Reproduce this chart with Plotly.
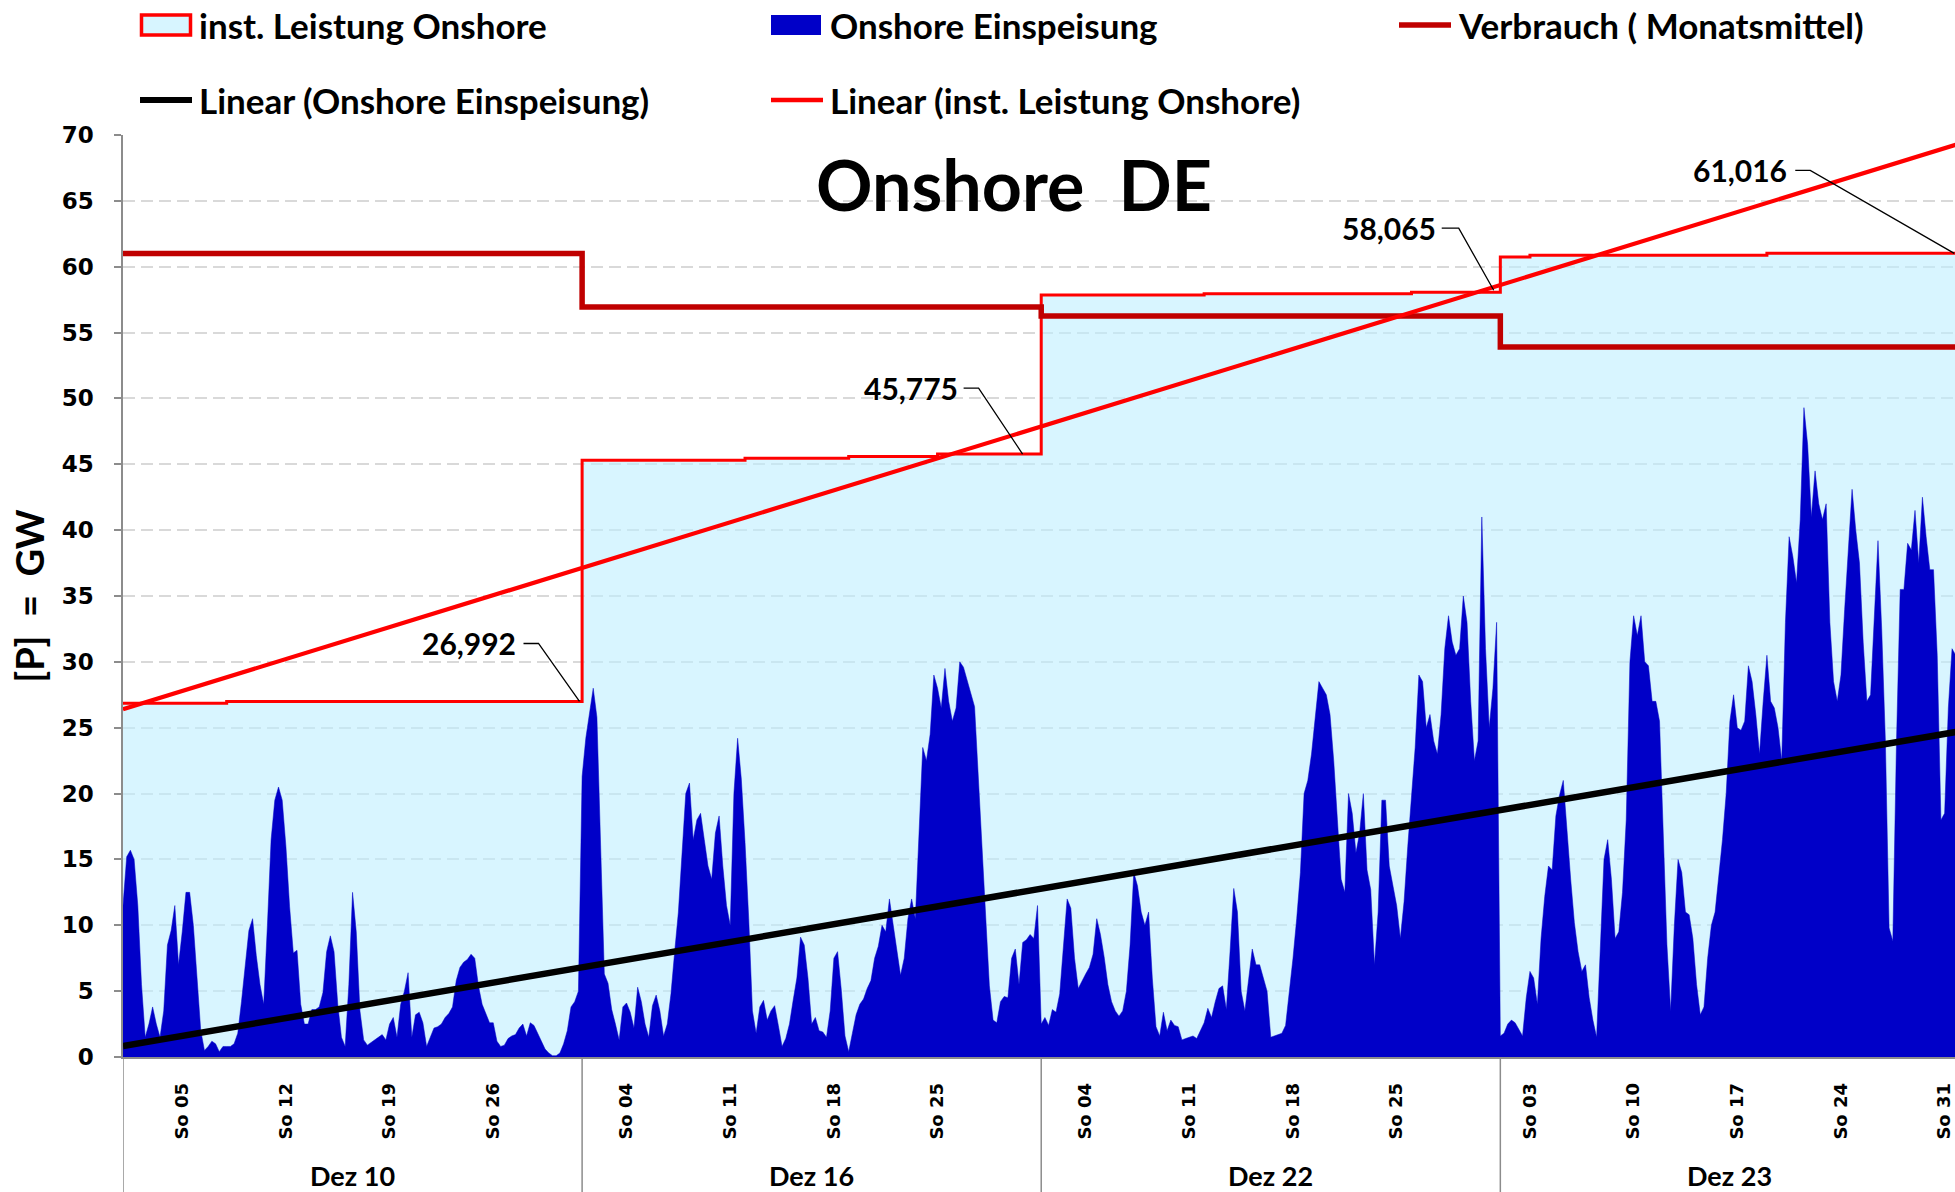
import numpy as np
import plotly.graph_objects as go

# ---------------- data ----------------
months = ["Dez 10", "Dez 16", "Dez 22", "Dez 23"]
days_per_month = 31
sundays = [[5, 12, 19, 26], [4, 11, 18, 25], [4, 11, 18, 25], [3, 10, 17, 24, 31]]

# Onshore Einspeisung, GW, 6-hour steps (4 per day)
einspeisung_dez10 = [11.5, 15.2, 15.7, 15.0, 11.5, 5.5, 1.5, 2.5, 3.8, 2.5, 1.5, 3.5,
                     8.5, 9.6, 11.5, 7.0, 9.5, 12.5, 12.5, 10.0, 6.0, 2.0, 0.5, 0.8,
                     1.2, 1.0, 0.4, 0.8, 0.8, 0.8, 1.0, 1.8, 4.2, 7.0, 9.6, 10.5,
                     7.7, 5.5, 4.0, 10.0, 16.5, 19.5, 20.5, 19.5, 16.0, 11.4, 7.9, 8.1,
                     4.0, 2.5, 2.5, 3.6, 3.6, 3.8, 4.9, 8.0, 9.2, 8.0, 4.0, 1.5,
                     0.8, 5.5, 12.5, 9.5, 3.5, 1.3, 0.9, 1.1, 1.3, 1.5, 1.7, 1.3,
                     2.5, 3.0, 1.5, 4.0, 5.0, 6.4, 1.5, 3.2, 3.4, 2.6, 0.8, 1.5,
                     2.2, 2.3, 2.5, 3.0, 3.3, 3.8, 5.8, 6.8, 7.2, 7.4, 7.8, 7.5,
                     5.4, 4.0, 3.3, 2.6, 2.6, 1.2, 0.8, 0.9, 1.4, 1.6, 1.7, 2.2,
                     2.5, 1.6, 2.6, 2.4, 1.8, 1.2, 0.6, 0.3, 0.1, 0.1, 0.3, 1.0,
                     2.0, 3.8, 4.2, 5.0]
einspeisung_dez16 = [21.3, 24.2, 26.1, 28.0, 25.8, 16.0, 6.3, 5.6, 3.6, 2.5, 1.3, 3.8,
                     4.1, 3.4, 2.2, 5.3, 4.2, 2.5, 1.5, 3.9, 4.7, 3.5, 1.6, 2.5,
                     4.8, 8.0, 11.0, 15.5, 20.0, 20.8, 16.5, 18.0, 18.5, 16.5, 14.5, 13.5,
                     17.0, 18.3, 14.5, 11.5, 10.0, 20.0, 24.2, 21.1, 16.3, 10.5, 3.5, 1.8,
                     3.8, 4.3, 2.8, 3.5, 3.9, 2.4, 0.8, 1.4, 2.5, 4.3, 6.0, 9.1,
                     8.5, 6.0, 2.5, 3.0, 2.0, 1.9, 1.5, 3.5, 7.5, 8.0, 5.1, 1.6,
                     0.4, 1.8, 3.2, 4.0, 4.4, 5.2, 5.8, 7.5, 8.4, 10.0, 9.5, 12.0,
                     10.0, 7.8, 6.2, 7.5, 10.5, 12.0, 10.5, 17.0, 23.5, 22.5, 24.5, 29.0,
                     28.0, 26.5, 29.5, 27.0, 25.5, 26.5, 30.0, 29.6, 28.5, 27.6, 26.6, 21.5,
                     16.0, 11.0, 5.4, 2.8, 2.6, 4.2, 4.6, 4.5, 7.5, 8.2, 5.5, 8.7,
                     8.9, 9.3, 9.0, 11.5]
einspeisung_dez22 = [2.5, 3.0, 2.4, 3.6, 3.4, 4.8, 8.5, 12.0, 11.3, 7.5, 5.2, 5.8,
                     6.3, 6.8, 7.8, 10.5, 9.3, 7.6, 5.5, 4.2, 3.5, 3.1, 3.5, 5.0,
                     8.5, 14.0, 13.0, 11.0, 10.0, 11.0, 6.0, 2.3, 1.6, 3.4, 2.0, 2.8,
                     2.4, 2.3, 1.3, 1.4, 1.5, 1.6, 1.4, 2.0, 2.6, 3.7, 3.0, 4.2,
                     5.2, 5.4, 3.6, 8.0, 12.8, 11.0, 5.0, 3.5, 6.0, 8.2, 7.0, 7.0,
                     6.0, 5.0, 1.5, 1.6, 1.7, 1.8, 2.4, 4.8, 7.5, 10.5, 14.0, 20.0,
                     21.0, 23.0, 26.0, 28.5, 28.0, 27.5, 26.0, 22.5, 18.0, 13.5, 12.5, 20.0,
                     18.5, 15.5, 17.0, 20.0, 14.2, 12.7, 7.0, 11.0, 19.5, 19.5, 14.5, 13.0,
                     11.5, 9.0, 11.8, 16.0, 20.0, 23.5, 29.0, 28.5, 25.0, 26.0, 24.0, 23.0,
                     26.0, 31.0, 33.5, 31.5, 30.5, 31.0, 35.0, 33.0, 27.0, 22.5, 24.0, 41.0,
                     31.0, 25.0, 28.0, 33.0]
einspeisung_dez23 = [1.6, 1.8, 2.5, 2.8, 2.6, 2.1, 1.6, 4.5, 6.5, 6.0, 4.0, 9.0,
                     12.2, 14.5, 14.2, 18.3, 19.9, 21.0, 17.0, 13.5, 10.2, 8.0, 6.5, 7.0,
                     4.5, 2.8, 1.5, 9.0, 15.0, 16.5, 13.5, 9.0, 9.5, 12.5, 18.0, 30.0,
                     33.5, 32.0, 33.5, 30.0, 29.7, 27.0, 27.0, 25.5, 16.5, 8.5, 3.5, 10.0,
                     15.0, 14.0, 11.0, 10.8, 9.0, 5.5, 3.2, 3.8, 7.5, 10.0, 11.0, 13.5,
                     16.5, 20.0, 25.5, 27.5, 25.0, 24.8, 25.5, 29.7, 28.5, 26.0, 23.0, 27.0,
                     30.5, 27.0, 26.5, 25.0, 22.5, 33.0, 39.5, 38.0, 36.0, 40.8, 49.3, 46.5,
                     41.0, 44.5, 42.0, 40.8, 42.0, 33.0, 28.5, 27.0, 29.0, 34.0, 39.0, 43.1,
                     40.0, 37.5, 31.5, 27.0, 27.5, 33.5, 39.2, 32.5, 24.0, 9.8, 8.8, 24.0,
                     35.5, 35.5, 39.0, 38.5, 41.5, 37.5, 42.5, 39.5, 37.0, 37.0, 30.5, 18.0,
                     18.5, 26.5, 31.0, 30.5]

# installed onshore capacity, GW: step start day within month and value
cap_days_dez10 = [0, 7]
cap_vals_dez10 = [26.86, 26.992]
cap_days_dez16 = [0, 11, 18, 24]
cap_vals_dez16 = [45.30, 45.45, 45.60, 45.775]
cap_days_dez22 = [0, 11, 25]
cap_vals_dez22 = [57.85, 57.95, 58.065]
cap_days_dez23 = [0, 2, 18]
cap_vals_dez23 = [60.74, 60.87, 61.016]

# consumption (monthly mean), GW
verbrauch = [61.0, 56.95, 56.25, 53.9]

# ---------------- build series ----------------
feed = [einspeisung_dez10, einspeisung_dez16, einspeisung_dez22, einspeisung_dez23]
cap_days = [cap_days_dez10, cap_days_dez16, cap_days_dez22, cap_days_dez23]
cap_vals = [cap_vals_dez10, cap_vals_dez16, cap_vals_dez22, cap_vals_dez23]
total_days = days_per_month * len(months)
X_MAX = 123.7

fx, fy = [], []
for m, vals in enumerate(feed):
    step = days_per_month / len(vals)
    for i, v in enumerate(vals):
        fx.append(m * days_per_month + i * step)
        fy.append(v)
fx = np.array(fx)
fy = np.array(fy)

cx, cy = [], []
for m in range(len(months)):
    for d, v in zip(cap_days[m], cap_vals[m]):
        cx.append(m * days_per_month + d)
        cy.append(v)
cx.append(total_days)
cy.append(cap_vals[-1][-1])

vx = [m * days_per_month for m in range(len(months))] + [total_days]
vy = verbrauch + [verbrauch[-1]]

# capacity evaluated on the feed-in time grid (for the trend fit)
cap_on_grid = np.array([cy[np.searchsorted(cx, t, side="right") - 1] for t in fx])

p_feed = np.polyfit(fx, fy, 1)
p_cap = np.polyfit(fx, cap_on_grid, 1)
tx = np.array([0.0, total_days])

# ---------------- figure ----------------
CAL = "Lato, Roboto, sans-serif"
WIDE = "DejaVu Sans, Verdana, sans-serif"
GRAY = "#8C8C8C"
W, H = 1955, 1192
ML, MR, MT, MB = 123, 0, 135, 135
PW, PH = W - ML - MR, H - MT - MB

CAP_LINE = "#FF0000"
CAP_FILL = "rgba(190,238,255,0.6)"
FEED_COL = "#0000C8"
VERB_COL = "#C00000"

fig = go.Figure()
fig.add_trace(go.Scatter(
    x=cx, y=cy, mode="lines", line=dict(shape="hv", color=CAP_LINE, width=3),
    fill="tozeroy", fillcolor=CAP_FILL, name="inst. Leistung Onshore"))
fig.add_trace(go.Scatter(
    x=fx, y=fy, mode="lines", line=dict(color=FEED_COL, width=0.5),
    fill="tozeroy", fillcolor=FEED_COL, name="Onshore Einspeisung"))
fig.add_trace(go.Scatter(
    x=vx, y=vy, mode="lines", line=dict(shape="hv", color=VERB_COL, width=5.5),
    name="Verbrauch ( Monatsmittel)"))
fig.add_trace(go.Scatter(
    x=tx, y=np.polyval(p_feed, tx), mode="lines", line=dict(color="black", width=6.5),
    name="Linear (Onshore Einspeisung)"))
fig.add_trace(go.Scatter(
    x=tx, y=np.polyval(p_cap, tx), mode="lines", line=dict(color=CAP_LINE, width=4.2),
    name="Linear (inst. Leistung Onshore)"))

# x ticks: Sundays
tickvals, ticktext = [], []
for m, sl in enumerate(sundays):
    for d in sl:
        tickvals.append(m * days_per_month + d - 1)
        ticktext.append(f"So {d:02d}")

fig.update_xaxes(
    range=[0, X_MAX], tickmode="array", tickvals=tickvals, ticktext=ticktext,
    tickangle=-90, tickfont=dict(family=WIDE, size=18, color="black", weight="bold"),
    ticks="", ticklabelstandoff=17, showgrid=False, zeroline=False,
    showline=True, linecolor=GRAY, linewidth=1.5)
fig.update_yaxes(
    range=[0, 70], dtick=5, tickfont=dict(family=WIDE, size=23, color="black", weight="bold"),
    ticks="outside", ticklen=7, tickcolor=GRAY, tickwidth=1.5, ticklabelstandoff=16,
    showgrid=True, gridcolor="#D9D9D9", gridwidth=1.5, griddash="12px,6px",
    zeroline=False, showline=True, linecolor=GRAY, linewidth=1.5,
    title=dict(text="[P]\u00a0 = \u00a0GW", font=dict(family=CAL, size=38, color="black", weight="bold"),
               standoff=5))

# month separators and labels
shapes = []
annotations = []
for m, name in enumerate(months):
    shapes.append(dict(type="line", xref="x", yref="paper", x0=m * days_per_month, x1=m * days_per_month,
                       y0=0, y1=-0.16, line=dict(color=GRAY, width=1.5)))
    annotations.append(dict(xref="x", yref="paper", x=m * days_per_month + days_per_month / 2,
                            y=-0.1286, yanchor="middle", showarrow=False, text=name,
                            font=dict(family=CAL, size=27, color="black", weight="bold")))

# capacity value labels with leader lines (pixel offsets from the labelled point, y up)
label_text_off = [(-112, 58), (-130, 66), (-111, 64), (-214, 83)]
label_stub = [(-58, -43), (-77, -62), (-58, -41), (-159, -144)]
label_end = [(-2, 0), (-18, 0), (-6, 2), (0, 0)]
for m in range(len(months)):
    xe = min(m * days_per_month + days_per_month - 1 / 24, X_MAX - 0.05)
    ye = cap_vals[m][-1]
    tx_off, ty_off = label_text_off[m]
    s0, s1 = label_stub[m]
    ex, ey = label_end[m]
    annotations.append(dict(
        xref="x", yref="y", x=xe, y=ye, text=f"{ye:.3f}".replace(".", ","),
        showarrow=False, xshift=tx_off, yshift=ty_off, xanchor="center", yanchor="middle",
        font=dict(family=CAL, size=30, color="black", weight="bold")))
    shapes.append(dict(
        type="path", xref="x", yref="y", xsizemode="pixel", ysizemode="pixel",
        xanchor=xe, yanchor=ye,
        path=f"M{s0},{ty_off} L{s1},{ty_off} L{ex},{ey}",
        line=dict(color="black", width=1.3)))

annotations.append(dict(xref="paper", yref="paper", x=(1014 - ML) / PW, y=(H - MB - 184) / PH,
                        xanchor="center", yanchor="middle",
                        showarrow=False, text="Onshore\u00a0\u00a0DE",
                        font=dict(family=CAL, size=70, color="black", weight="bold")))


# ---------------- legend (drawn as swatches + text, Excel style) ----------------
def px_x(p):
    return (p - ML) / PW


def px_y(p):
    return (H - MB - p) / PH


legend_font = dict(family=CAL, size=35, color="black", weight="bold")
legend_items = [
    # name, kind, swatch left px, row centre px
    ("inst. Leistung Onshore", "cap", 140, 25),
    ("Onshore Einspeisung", "feed", 771, 25),
    ("Verbrauch ( Monatsmittel)", "verb", 1399, 25),
    ("Linear (Onshore Einspeisung)", "trend_feed", 140, 100),
    ("Linear (inst. Leistung Onshore)", "trend_cap", 771, 100),
]
SW_W = 52
for name, kind, x0, yc in legend_items:
    if kind == "cap":
        shapes.append(dict(type="rect", xref="paper", yref="paper",
                           x0=px_x(x0 + 1.5), x1=px_x(x0 + SW_W - 1.5), y0=px_y(yc + 10), y1=px_y(yc - 10),
                           fillcolor="#D7F5FF", line=dict(color=CAP_LINE, width=3.5)))
    elif kind == "feed":
        shapes.append(dict(type="rect", xref="paper", yref="paper",
                           x0=px_x(x0), x1=px_x(x0 + SW_W - 2), y0=px_y(yc + 10), y1=px_y(yc - 10),
                           fillcolor=FEED_COL, line=dict(width=0)))
    else:
        col, lw = {"verb": (VERB_COL, 5.5), "trend_feed": ("black", 6), "trend_cap": (CAP_LINE, 4.5)}[kind]
        shapes.append(dict(type="line", xref="paper", yref="paper",
                           x0=px_x(x0), x1=px_x(x0 + SW_W), y0=px_y(yc), y1=px_y(yc),
                           line=dict(color=col, width=lw)))
    annotations.append(dict(xref="paper", yref="paper", x=px_x(x0 + SW_W + 5), y=px_y(yc),
                            xanchor="left", yanchor="middle", showarrow=False, text=name,
                            font=legend_font))

fig.update_layout(
    width=W, height=H,
    margin=dict(l=ML, r=MR, t=MT, b=MB),
    plot_bgcolor="white", paper_bgcolor="white",
    shapes=shapes, annotations=annotations,
    showlegend=False,
)

fig.write_html("out.html", config={"displayModeBar": False},
               post_script="document.body.style.margin='0';document.body.style.overflow='hidden';")
